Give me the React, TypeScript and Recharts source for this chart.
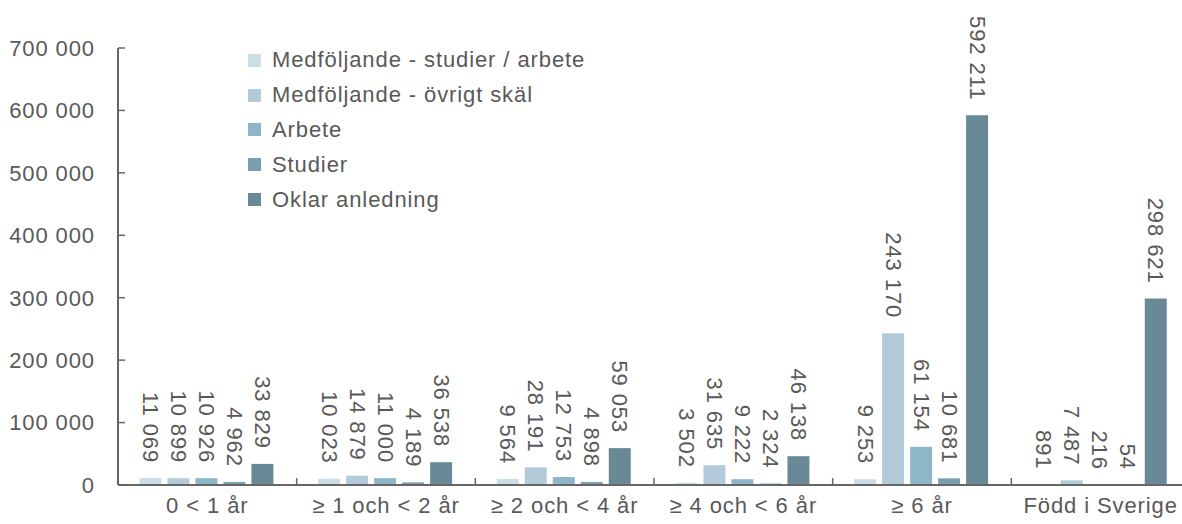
import React from 'react';
import { BarChart, Bar, XAxis, YAxis, LabelList } from 'recharts';

const categories = ['0 < 1 år', '≥ 1 och < 2 år', '≥ 2 och < 4 år', '≥ 4 och < 6 år', '≥ 6 år', 'Född i Sverige'];

const medfStudierArbete = [11069, 10023, 9564, 3502, 9253, 891];
const medfOvrigt = [10899, 14879, 28191, 31635, 243170, 7487];
const arbete = [10926, 11000, 12753, 9222, 61154, 216];
const studier = [4962, 4189, 4898, 2324, 10681, 54];
const oklar = [33829, 36538, 59053, 46138, 592211, 298621];

const yTicks = [0, 100000, 200000, 300000, 400000, 500000, 600000, 700000];

const SERIES = [
  { key: 'medfStudierArbete', name: 'Medföljande - studier / arbete', color: '#cddde6', values: medfStudierArbete },
  { key: 'medfOvrigt', name: 'Medföljande - övrigt skäl', color: '#b3cbd8', values: medfOvrigt },
  { key: 'arbete', name: 'Arbete', color: '#8db6c9', values: arbete },
  { key: 'studier', name: 'Studier', color: '#7aa0b0', values: studier },
  { key: 'oklar', name: 'Oklar anledning', color: '#6a8996', values: oklar },
];

const data = categories.map((cat, i) => {
  const row: Record<string, string | number> = { cat };
  SERIES.forEach((s) => {
    row[s.key] = s.values[i];
  });
  return row;
});

const TEXT = '#595959';
const AXIS = '#666666';
const FONT = '"Liberation Sans", Arial, sans-serif';
const FS = 22;
const LS = 0.9;

function fmt(v: number): string {
  return String(Math.round(v)).replace(/\B(?=(\d{3})+(?!\d))/g, ' ');
}

function BarValue(props: any) {
  const { x, y, width, value } = props;
  const cx = x + width / 2;
  const cy = y - 15;
  return (
    <text
      x={cx}
      y={cy}
      transform={`rotate(90, ${cx}, ${cy})`}
      textAnchor="end"
      dominantBaseline="central"
      fill={TEXT}
      fontSize={FS}
      fontFamily={FONT}
      letterSpacing={LS}
    >
      {fmt(value)}
    </text>
  );
}

const X_TICK_MARGIN = 12;

function CategoryTick(props: any) {
  const { x, y, payload, index, visibleTicksCount } = props;
  const half = payload.offset ?? 89;
  const axisY = y - X_TICK_MARGIN;
  return (
    <g>
      <text x={x} y={y} dy="0.72em" textAnchor="middle" fill={TEXT} fontSize={FS} fontFamily={FONT} letterSpacing={LS}>
        {payload.value}
      </text>
      {index > 0 && (
        <line x1={x - half} x2={x - half} y1={axisY} y2={axisY - 7} stroke={AXIS} strokeWidth={1.5} />
      )}
      {index === visibleTicksCount - 1 && (
        <line x1={x + half} x2={x + half} y1={axisY} y2={axisY - 7} stroke={AXIS} strokeWidth={1.5} />
      )}
    </g>
  );
}

function LegendBox() {
  return (
    <div
      style={{
        position: 'absolute',
        left: 248,
        top: 43,
        fontFamily: FONT,
        fontSize: FS,
        letterSpacing: LS,
        color: TEXT,
        whiteSpace: 'nowrap',
      }}
    >
      {SERIES.map((s) => (
        <div key={s.key} style={{ display: 'flex', alignItems: 'center', height: 34.8 }}>
          <span style={{ width: 13, height: 13, background: s.color, marginRight: 11, display: 'inline-block' }} />
          <span>{s.name}</span>
        </div>
      ))}
    </div>
  );
}

export default function App() {
  return (
    <div style={{ position: 'absolute', left: 0, top: 0, width: 1182, height: 524, overflow: 'hidden', background: '#fff' }}>
      <BarChart
        width={1200}
        height={524}
        data={data}
        margin={{ top: 48, right: 10, left: 0, bottom: 0 }}
        barCategoryGap="12%"
        barGap={6}
      >
        <XAxis
          dataKey="cat"
          height={39}
          tickLine={false}
          tickSize={0}
          tickMargin={X_TICK_MARGIN}
          axisLine={{ stroke: AXIS, strokeWidth: 2 }}
          tick={<CategoryTick />}
          interval={0}
        />
        <YAxis
          width={118}
          domain={[0, 700000]}
          ticks={yTicks}
          tickFormatter={fmt}
          tickSize={-7}
          tickMargin={30}
          tickLine={{ stroke: AXIS, strokeWidth: 1.5 }}
          axisLine={{ stroke: AXIS, strokeWidth: 2 }}
          tick={{ fill: TEXT, fontSize: FS, fontFamily: FONT, letterSpacing: LS }}
          interval={0}
        />
        {SERIES.map((s) => (
          <Bar key={s.key} dataKey={s.key} name={s.name} fill={s.color} isAnimationActive={false}>
            <LabelList dataKey={s.key} content={<BarValue />} />
          </Bar>
        ))}
      </BarChart>
      <LegendBox />
    </div>
  );
}
